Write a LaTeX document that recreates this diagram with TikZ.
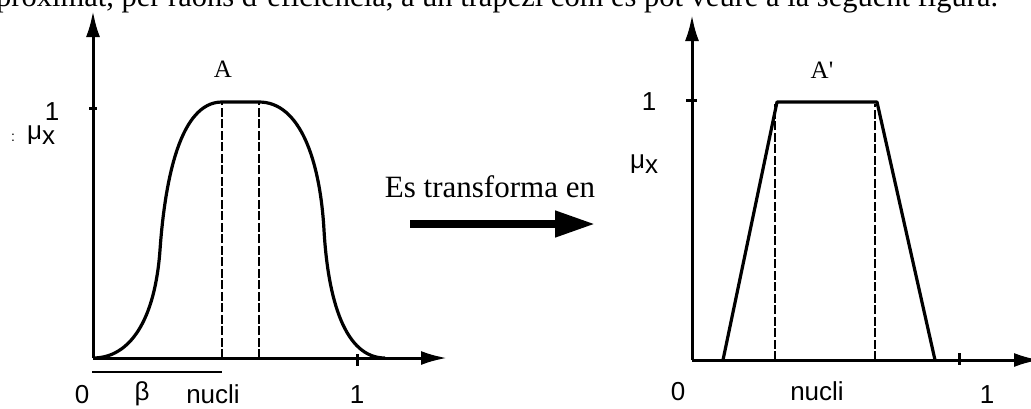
\documentclass[tikz,border=0pt]{standalone}
\usepackage{fontspec}
\setmainfont{Liberation Serif}
\setsansfont{Liberation Sans}
\usepackage{tikz}
\usetikzlibrary{arrows.meta, positioning}

\begin{document}
\begin{tikzpicture}[x=1pt, y=-1pt,
    every node/.style={inner sep=0pt},
    lab/.style={font=\sffamily\fontsize{26}{30}\selectfont},
    serlab/.style={font=\fontsize{25}{28}\selectfont},
    bodytext/.style={font=\fontsize{30.5}{36}\selectfont},
    axis/.style={line width=3pt, -{Latex[length=26pt,width=14pt]}},
    membership/.style={line width=3.2pt, line join=round},
    nucleus/.style={line width=2.3pt, dash pattern=on 9pt off 2.5pt},
    tickmark/.style={line width=3pt}]

\useasboundingbox (0,0) rectangle (1031,408);

% Running text of the page, cut by the top edge
\node[bodytext, anchor=base west] (body) at (-4,6)
  {proximat, per raons d'eficiència, a un trapezi com es pot veure a la següent figura.};

% Left graph: smooth membership function A
\coordinate (oA) at (93,358);
\coordinate (yA) at (93,11);
\coordinate (xA) at (447,358);
\draw[axis] (oA) -- (yA);
\draw[axis] (oA) -- (xA);
\draw[tickmark] (89,108) -- (97,108);
\draw[tickmark] (357,354) -- (357,366);

\draw[membership] (oA) .. controls (130,358) and (155,320) .. (160,250)
  .. controls (165,180) and (180,102) .. (222,102) -- (259,102)
  .. controls (300,102) and (320,160) .. (324,230)
  .. controls (328,300) and (345,358) .. (385,358);
\draw[nucleus] (222,358) -- (222,103);
\draw[nucleus] (259,358) -- (259,103);
\draw[line width=2.8pt] (92,372) -- (222,372);

\node[serlab] (labA) at (223,69) {A};
\node[lab, anchor=base] (oneyA) at (52,120) {1};
\node[lab, anchor=base west] (muA) at (27,139) {μ\raisebox{-0.4ex}{x}};
\node[font=\sffamily\fontsize{14}{16}\selectfont] (dots) at (13,138) {:};
\node[lab, anchor=base] (zeroA) at (82,403) {0};
\node[lab, anchor=base] (beta) at (142,400) {β};
\node[lab, anchor=base] (nucA) at (213,403) {nucli};
\node[lab, anchor=base] (onexA) at (357,403) {1};

% Middle: transformation arrow
\node[bodytext, font=\fontsize{31}{36}\selectfont, anchor=base] (trans) at (490,197) {Es transforma en};
\coordinate (arrS) at (410,224);
\coordinate (arrE) at (595,224);
\draw[line width=7.5pt, -{Triangle[length=40pt,width=25pt]}] (arrS) -- (arrE);

% Right graph: trapezoidal membership function A'
\coordinate (oB) at (692,360);
\coordinate (yB) at (692,15);
\coordinate (xB) at (1040,360);
\draw[axis] (oB) -- (yB);
\draw[axis] (oB) -- (xB);
\draw[tickmark] (686,100) -- (697,100);
\draw[tickmark] (959,353) -- (959,365);

\draw[membership] (723,360) -- (777,102) -- (877,102) -- (935,360);
\draw[nucleus] (775,360) -- (775,104);
\draw[nucleus] (875,360) -- (875,104);

\node[serlab] (labB) at (822,70) {A\textquotesingle};
\node[lab, anchor=base] (oneyB) at (649,110) {1};
\node[lab, anchor=base west] (muB) at (630,168) {μ\raisebox{-0.4ex}{x}};
\node[lab, anchor=base] (zeroB) at (678,400) {0};
\node[lab, anchor=base] (nucB) at (817,400) {nucli};
\node[lab, anchor=base] (onexB) at (987,403) {1};

\end{tikzpicture}
\end{document}
